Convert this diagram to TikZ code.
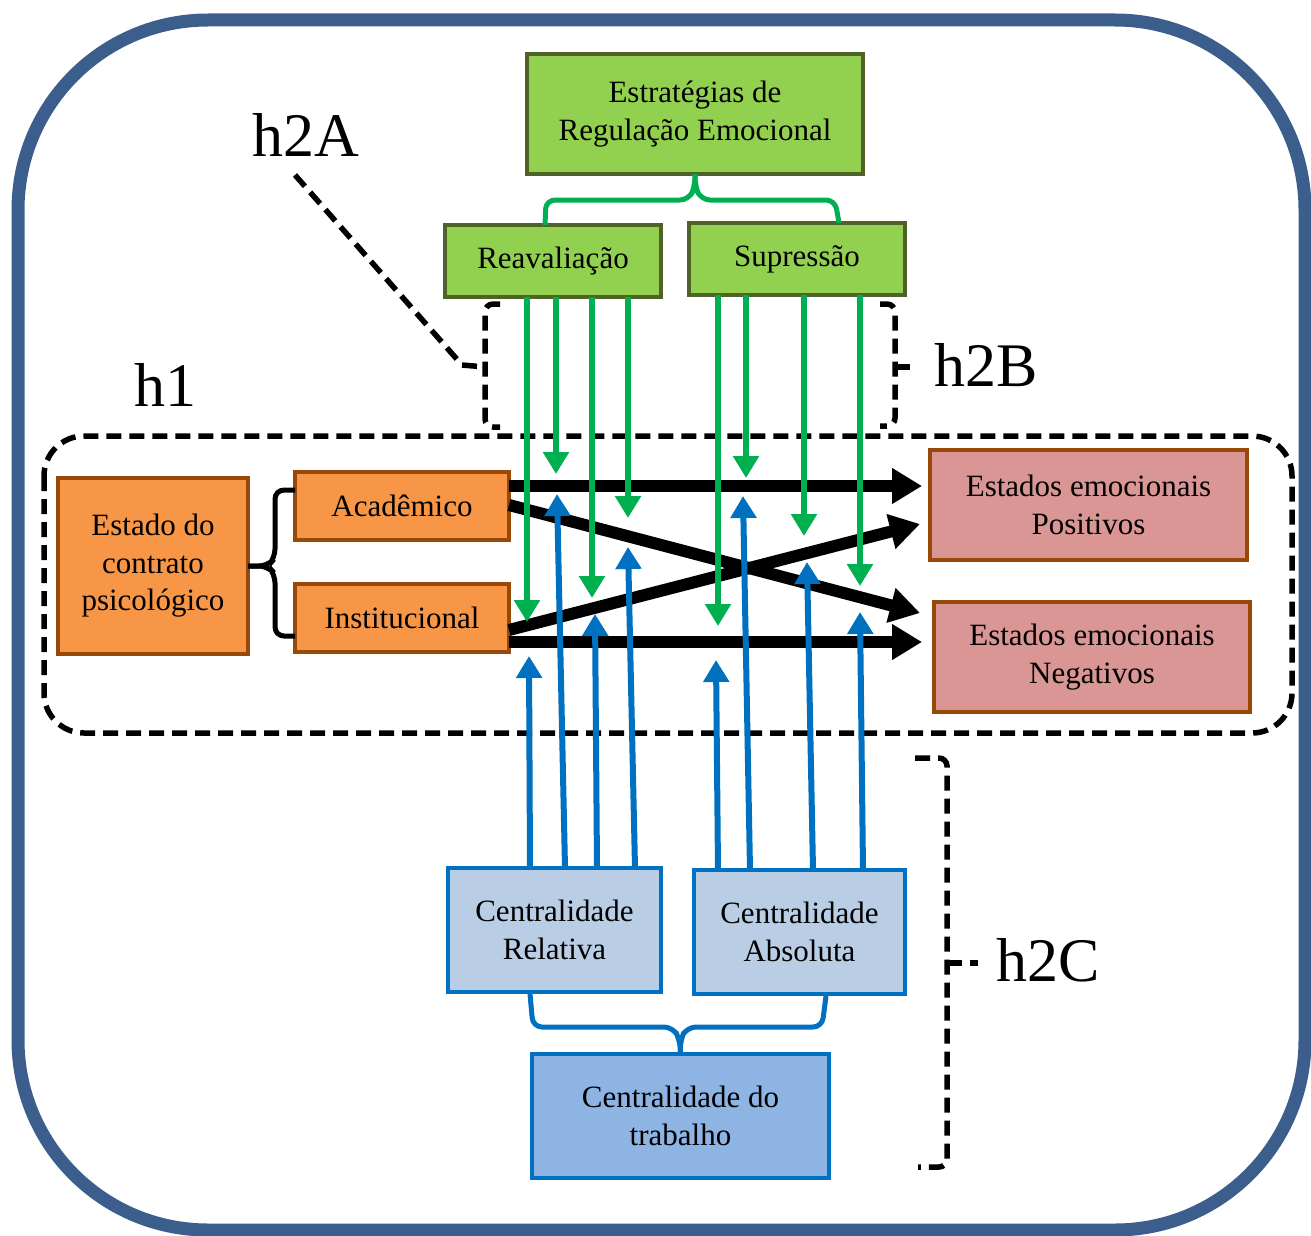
\documentclass[tikz,border=0pt]{standalone}
\usepackage{fontspec}
\setmainfont{Liberation Serif}
\usetikzlibrary{arrows.meta}
\definecolor{gfill}{HTML}{92D050}
\definecolor{gdraw}{HTML}{4F6228}
\definecolor{gline}{HTML}{00B050}
\definecolor{ofill}{HTML}{F79646}
\definecolor{odraw}{HTML}{984807}
\definecolor{pfill}{HTML}{D99694}
\definecolor{bfill}{HTML}{B9CDE5}
\definecolor{bfilldark}{HTML}{8EB4E3}
\definecolor{bline}{HTML}{0070C0}
\definecolor{frame}{RGB}{59,94,140}
\tikzset{
  box/.style={draw, line width=3.2pt, rectangle, outer sep=0pt, align=center,
    font=\fontsize{31}{37.5}\selectfont, inner sep=2pt},
  gbox/.style={box, fill=gfill, draw=gdraw},
  obox/.style={box, fill=ofill, draw=odraw},
  pbox/.style={box, fill=pfill, draw=odraw},
  bbox/.style={box, fill=bfill, draw=bline},
  bboxd/.style={box, fill=bfilldark, draw=bline},
  garrow/.style={draw=gline, line width=6pt, -{Triangle[length=22pt,width=25pt]}},
  barrow/.style={draw=bline, line width=6pt, -{Triangle[length=22pt,width=25pt]}},
  karrow/.style={draw=black, line width=12pt, -{Triangle[length=30pt,width=34pt]}},
  hdash/.style={draw=black, line width=5.5pt, dash pattern=on 15pt off 8pt},
  hlabel/.style={font=\fontsize{62}{70}\selectfont, inner sep=0pt},
  gbrace/.style={draw=gline, line width=5pt, rounded corners=9pt},
  bbrace/.style={draw=bline, line width=5pt, rounded corners=9pt},
  kbrace/.style={draw=black, line width=5pt, rounded corners=9pt},
}
\begin{document}
\begin{tikzpicture}[x=1pt, y=-1pt]
\useasboundingbox (0,0) rectangle (1311,1236);
% outer frame
\draw[frame, line width=13pt, rounded corners=190pt] (18,20) rectangle (1305,1230);

% h1 dashed region
\draw[hdash, rounded corners=40pt] (44,436) rectangle (1292,733);

% boxes
\node[gbox, minimum width=336pt, minimum height=120pt] (top) at (695,114) {Estratégias de\\Regulação Emocional};
\node[gbox, minimum width=216pt, minimum height=72pt] (reav) at (553,261) {Reavaliação};
\node[gbox, minimum width=216pt, minimum height=72pt] (supr) at (797,259) {Supressão};

\node[obox, minimum width=190pt, minimum height=176pt] (estado) at (153,566) {Estado do\\contrato\\psicológico};
\node[obox, minimum width=214pt, minimum height=68pt] (acad) at (402,506) {Acadêmico};
\node[obox, minimum width=214pt, minimum height=68pt] (inst) at (402,618) {Institucional};

\node[pbox, minimum width=317pt, minimum height=110pt] (pos) at (1088.5,505) {Estados emocionais\\Positivos};
\node[pbox, minimum width=316pt, minimum height=110pt] (neg) at (1092,657) {Estados emocionais\\Negativos};

\node[bbox, minimum width=213pt, minimum height=124pt] (crel) at (554.5,930) {Centralidade\\Relativa};
\node[bbox, minimum width=211pt, minimum height=124pt] (cabs) at (799.5,932) {Centralidade\\Absoluta};
\node[bboxd, minimum width=297pt, minimum height=124pt] (ctrab) at (680.5,1116) {Centralidade do\\trabalho};

% green brace
\draw[gbrace] (545,225) -- (546,200) -- (689,200) -- (695,186) -- (top.south);
\draw[gbrace] (top.south) -- (695,186) -- (701,200) -- (835,200) -- (839,223);

% blue brace
\draw[bbrace] (530,994) -- (533,1027) -- (673,1027) -- (680,1040) -- (ctrab.north);
\draw[bbrace] (ctrab.north) -- (680,1040) -- (687,1027) -- (822,1027) -- (826,996);

% black brace
\draw[kbrace] (295,490) -- (275,490) -- (275,558) -- (268,566) -- (estado.east);
\draw[kbrace] (estado.east) -- (268,566) -- (275,574) -- (275,636) -- (295,636);

% black arrows
\draw[karrow] ([yshift=-14pt]acad.north east) -- (922,486);
\draw[karrow] ([yshift=-33pt]acad.north east) -- (920,613);
\draw[karrow] ([yshift=-46pt]inst.north east) -- (920,524);
\draw[karrow] ([yshift=-58pt]inst.north east) -- (922,642);

% green arrows
\draw[garrow] ([xshift=82pt]reav.south west) -- (527,622);
\draw[garrow] ([xshift=111pt]reav.south west) -- (556,474);
\draw[garrow] ([xshift=147pt]reav.south west) -- (592,598);
\draw[garrow] ([xshift=183pt]reav.south west) -- (628,518);
\draw[garrow] ([xshift=29pt]supr.south west) -- (718,626);
\draw[garrow] ([xshift=57pt]supr.south west) -- (746,478);
\draw[garrow] ([xshift=115pt]supr.south west) -- (804,536);
\draw[garrow] ([xshift=171pt]supr.south west) -- (860,586);

% blue arrows
\draw[barrow] ([xshift=82pt]crel.north west) -- (529,656);
\draw[barrow] ([xshift=117pt]crel.north west) -- (557,494);
\draw[barrow] ([xshift=149pt]crel.north west) -- (595,614);
\draw[barrow] ([xshift=187pt]crel.north west) -- (628,547);
\draw[barrow] ([xshift=24pt]cabs.north west) -- (716,660);
\draw[barrow] ([xshift=56pt]cabs.north west) -- (743,496);
\draw[barrow] ([xshift=119pt]cabs.north west) -- (807,562);
\draw[barrow] ([xshift=169pt]cabs.north west) -- (860,612);

% h2B brackets
\draw[hdash, rounded corners=8pt] (500,304) -- (485,304) -- (485,427) -- (500,427);
\draw[hdash, rounded corners=8pt] (880,304) -- (895,304) -- (895,426) -- (880,426);
\draw[hdash] (895,367) -- (912,367);
% h2A connector
\coordinate (h2Aend) at (485,367);
\draw[hdash] (295,175) -- (462,365) -- (h2Aend);

% h2C bracket
\draw[hdash, rounded corners=8pt] (915,758) -- (947,758) -- (947,1167) -- (918,1167);
\draw[hdash] (947,963) -- (978,963);

% labels
\node[hlabel] (lh2A) at (306,135) {h2A};
\node[hlabel, anchor=west] (lh2B) at (934,365) {h2B};
\node[hlabel] (lh1) at (165,385) {h1};
\node[hlabel, anchor=west] (lh2C) at (996,960) {h2C};
\end{tikzpicture}
\end{document}
